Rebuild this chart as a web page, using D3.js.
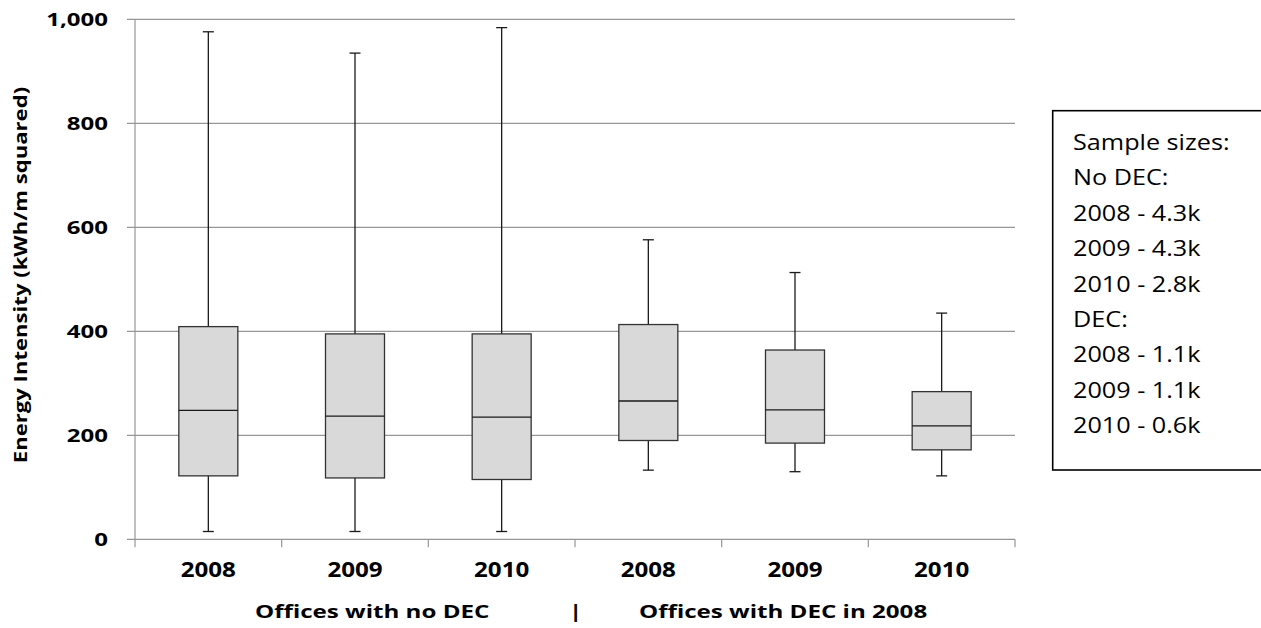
<!DOCTYPE html>
<html>
<head>
<meta charset="utf-8">
<script src="https://cdn.jsdelivr.net/npm/d3@7"></script>
<style>
  body { margin: 0; background: #fff; }
  svg { display: block; }
  text { font-family: "Open Sans", Lato, sans-serif; fill: #000; }
</style>
</head>
<body>
<svg id="chart" width="1261" height="628"></svg>
<script>
// box plot data (kWh/m squared)
const categories = ["2008", "2009", "2010", "2008", "2009", "2010"];
const groupLabels = ["Offices with no DEC", "|", "Offices with DEC in 2008"];
const whiskerHigh = [976, 935, 984, 576, 513, 435];
const q3 = [409, 395, 395, 413, 364, 284];
const median = [248, 237, 235, 266, 249, 218];
const q1 = [122, 118, 115, 190, 185, 172];
const whiskerLow = [15, 15, 15, 133, 130, 122];
const yTicks = [0, 200, 400, 600, 800, 1000];
const legendLines = ["Sample sizes:", "No DEC:", "2008 - 4.3k", "2009 - 4.3k", "2010 - 2.8k",
  "DEC:", "2008 - 1.1k", "2009 - 1.1k", "2010 - 0.6k"];

const svg = d3.select("#chart");
const plotLeft = 135, plotRight = 1015, plotTop = 19.3, plotBottom = 539.3;
// the original text looks stretched sideways, so widen the glyphs a bit
const stretch = 1.3;

const x = d3.scaleBand()
  .domain(d3.range(categories.length))
  .range([plotLeft, plotRight])
  .padding(0);

const y = d3.scaleLinear()
  .domain([0, 1000])
  .range([plotBottom, plotTop]);

// gridlines (they also form the left ticks)
svg.append("g")
  .selectAll("line")
  .data(yTicks)
  .enter().append("line")
  .attr("x1", plotLeft - 8).attr("x2", plotRight)
  .attr("y1", d => y(d)).attr("y2", d => y(d))
  .attr("stroke", "#969696")
  .attr("stroke-width", 1.2);

// y axis line
svg.append("line")
  .attr("x1", plotLeft).attr("x2", plotLeft)
  .attr("y1", y(1000)).attr("y2", y(0))
  .attr("stroke", "#969696").attr("stroke-width", 1.2);

// x axis ticks between categories
const xTickPos = d3.range(categories.length + 1).map(i => plotLeft + i * x.bandwidth());
svg.append("g")
  .selectAll("line")
  .data(xTickPos)
  .enter().append("line")
  .attr("x1", d => d).attr("x2", d => d)
  .attr("y1", y(0)).attr("y2", y(0) + 8)
  .attr("stroke", "#969696").attr("stroke-width", 1.2);

// y tick labels
svg.append("g")
  .selectAll("text")
  .data(yTicks)
  .enter().append("text")
  .attr("transform", d => `translate(108,${y(d)}) scale(${stretch},1)`)
  .attr("dy", "0.36em")
  .attr("text-anchor", "end")
  .style("font-weight", "bold")
  .style("font-size", "18.5px")
  .text(d => d3.format(",")(d));

// x tick labels
svg.append("g")
  .selectAll("text")
  .data(categories)
  .enter().append("text")
  .attr("transform", (d, i) => `translate(${x(i) + x.bandwidth() / 2},577) scale(1.15,1)`)
  .attr("text-anchor", "middle")
  .style("font-weight", "bold")
  .style("font-size", "21px")
  .text(d => d);

// group labels
const groupX = [255, 569, 639];
svg.append("g")
  .selectAll("text")
  .data(groupLabels)
  .enter().append("text")
  .attr("transform", (d, i) => `translate(${groupX[i]},618) scale(${stretch + 0.04},1)`)
  .style("font-weight", "bold")
  .style("font-size", "18px")
  .text(d => d);

// y title
svg.append("text")
  .attr("transform", `translate(27,275) rotate(-90) scale(${stretch},1)`)
  .attr("text-anchor", "middle")
  .style("font-weight", "bold")
  .style("font-size", "17px")
  .text("Energy Intensity (kWh/m squared)");

// boxes
const boxW = 59, capW = 11;
const boxes = svg.append("g")
  .selectAll("g")
  .data(categories.map((c, i) => i))
  .enter().append("g")
  .attr("transform", i => `translate(${x(i) + x.bandwidth() / 2},0)`);

boxes.append("line")
  .attr("x1", 0).attr("x2", 0)
  .attr("y1", i => y(whiskerHigh[i])).attr("y2", i => y(whiskerLow[i]))
  .attr("stroke", "#1a1a1a").attr("stroke-width", 1.3);

boxes.append("line")
  .attr("x1", -capW / 2).attr("x2", capW / 2)
  .attr("y1", i => y(whiskerHigh[i])).attr("y2", i => y(whiskerHigh[i]))
  .attr("stroke", "#1a1a1a").attr("stroke-width", 1.3);

boxes.append("line")
  .attr("x1", -capW / 2).attr("x2", capW / 2)
  .attr("y1", i => y(whiskerLow[i])).attr("y2", i => y(whiskerLow[i]))
  .attr("stroke", "#1a1a1a").attr("stroke-width", 1.3);

boxes.append("rect")
  .attr("x", -boxW / 2)
  .attr("width", boxW)
  .attr("y", i => y(q3[i]))
  .attr("height", i => y(q1[i]) - y(q3[i]))
  .attr("fill", "#d9d9d9")
  .attr("stroke", "#333").attr("stroke-width", 1.3);

boxes.append("line")
  .attr("x1", -boxW / 2).attr("x2", boxW / 2)
  .attr("y1", i => y(median[i])).attr("y2", i => y(median[i]))
  .attr("stroke", "#1a1a1a").attr("stroke-width", 1.3);

// sample size box
const legend = svg.append("g");
legend.append("rect")
  .attr("x", 1052.7).attr("y", 110.7)
  .attr("width", 300).attr("height", 359.3)
  .attr("fill", "#fff")
  .attr("stroke", "#000").attr("stroke-width", 1.6);

legend.selectAll("text")
  .data(legendLines)
  .enter().append("text")
  .attr("transform", (d, i) => `translate(1073,${150 + i * 35.4}) scale(1.2,1)`)
  .style("font-size", "21px")
  .text(d => d);
</script>
</body>
</html>
